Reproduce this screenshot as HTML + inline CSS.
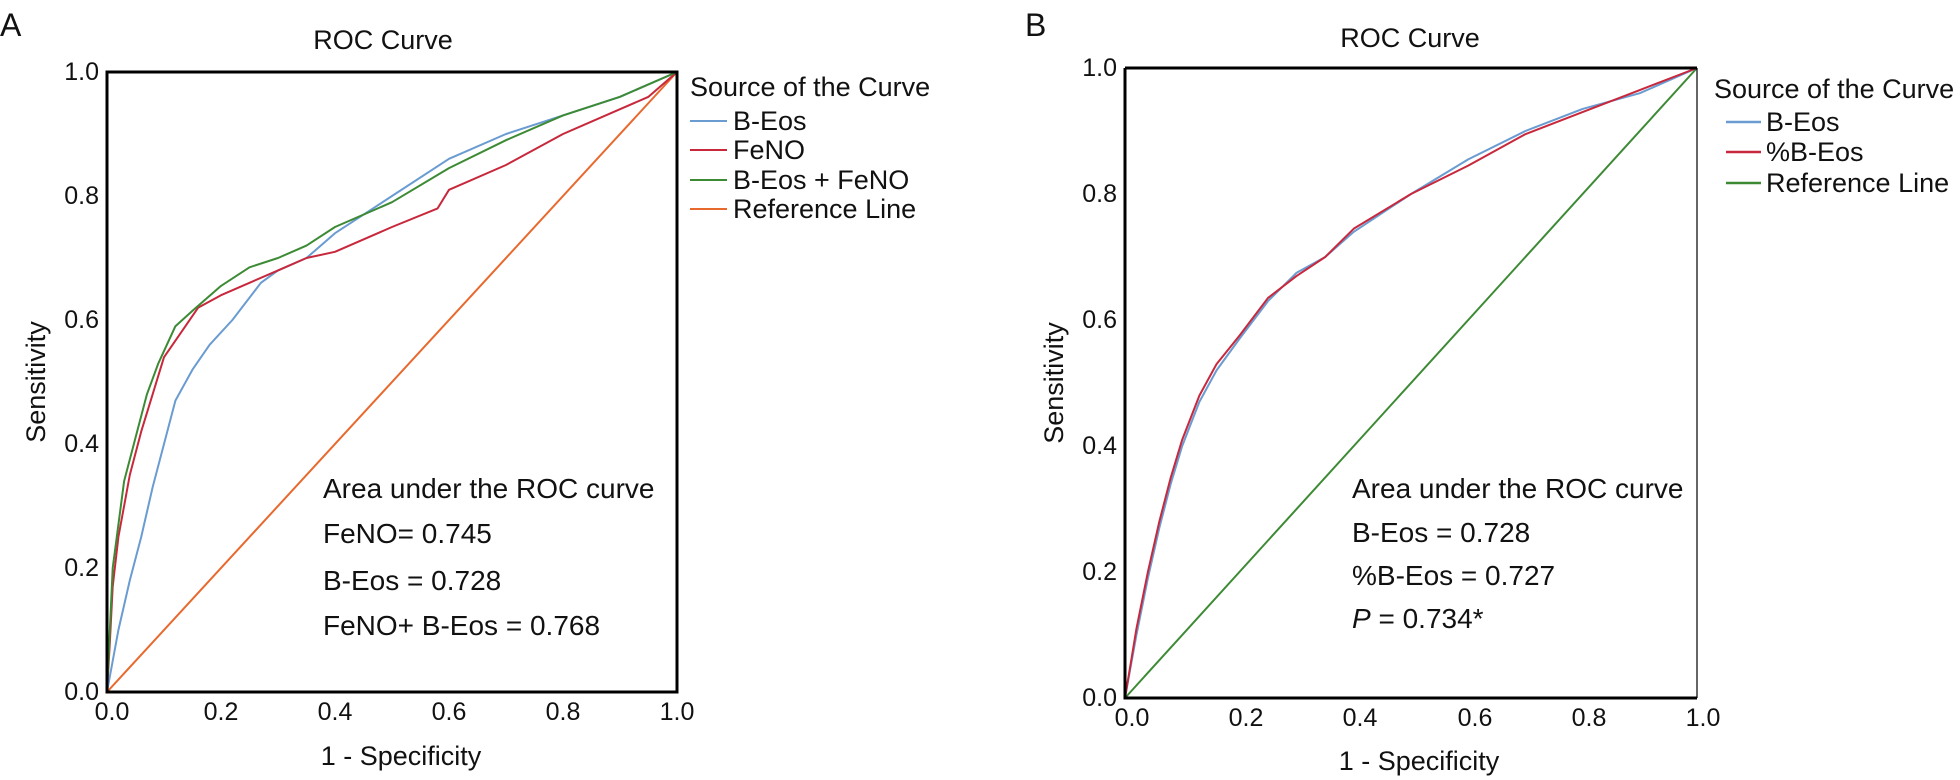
<!DOCTYPE html>
<html><head><meta charset="utf-8"><style>
body{margin:0;background:#fff;}
svg{display:block;font-family:"Liberation Sans",Arial,sans-serif;}
.c{fill:none;stroke-width:2;vector-effect:non-scaling-stroke;stroke-linejoin:round}
text{fill:#111}
</style></head><body>
<svg width="1960" height="780" viewBox="0 0 1960 780">
<!-- Panel A -->
<text x="0" y="36" font-size="32">A</text>
<text x="383" y="49" font-size="27" text-anchor="middle">ROC Curve</text>
<g transform="translate(107,692) scale(570,-620)">
<polyline class="c" stroke="#e8692e" points="0,0 1,1"/>
<polyline class="c" stroke="#6a9bd1" points="0,0 0.01,0.05 0.02,0.1 0.04,0.18 0.06,0.25 0.08,0.33 0.1,0.4 0.12,0.47 0.15,0.52 0.18,0.56 0.22,0.6 0.27,0.66 0.3,0.68 0.35,0.7 0.4,0.74 0.5,0.8 0.6,0.86 0.7,0.9 0.8,0.93 0.9,0.96 1,1"/>
<polyline class="c" stroke="#c8283c" points="0,0 0.005,0.08 0.01,0.17 0.02,0.25 0.04,0.35 0.06,0.42 0.08,0.48 0.1,0.54 0.13,0.58 0.16,0.62 0.2,0.64 0.25,0.66 0.3,0.68 0.35,0.7 0.4,0.71 0.5,0.75 0.58,0.78 0.6,0.81 0.7,0.85 0.8,0.9 0.9,0.94 0.95,0.96 1,1"/>
<polyline class="c" stroke="#3d8a35" points="0,0 0.005,0.1 0.01,0.2 0.02,0.27 0.03,0.34 0.05,0.41 0.07,0.48 0.09,0.53 0.12,0.59 0.15,0.615 0.2,0.655 0.25,0.685 0.3,0.7 0.35,0.72 0.4,0.75 0.5,0.79 0.6,0.845 0.7,0.89 0.8,0.93 0.9,0.96 1,1"/>
</g>
<rect x="107" y="72" width="570" height="620" fill="none" stroke="#000" stroke-width="3"/>
<g font-size="25" text-anchor="end">
<text x="99" y="80">1.0</text><text x="99" y="204">0.8</text><text x="99" y="328">0.6</text><text x="99" y="452">0.4</text><text x="99" y="576">0.2</text><text x="99" y="700">0.0</text>
</g>
<g font-size="25" text-anchor="middle">
<text x="112" y="720">0.0</text><text x="221" y="720">0.2</text><text x="335" y="720">0.4</text><text x="449" y="720">0.6</text><text x="563" y="720">0.8</text><text x="677" y="720">1.0</text>
</g>
<g font-size="27" text-anchor="middle">
<text x="401" y="765">1 - Specificity</text>
<text transform="translate(45,382) rotate(-90)">Sensitivity</text>
</g>
<g font-size="27">
<text x="690" y="96">Source of the Curve</text>
<line x1="690" y1="121" x2="727" y2="121" stroke="#6a9bd1" stroke-width="2"/><text x="733" y="130">B-Eos</text>
<line x1="690" y1="150" x2="727" y2="150" stroke="#c8283c" stroke-width="2"/><text x="733" y="159">FeNO</text>
<line x1="690" y1="180" x2="727" y2="180" stroke="#3d8a35" stroke-width="2"/><text x="733" y="189">B-Eos + FeNO</text>
<line x1="690" y1="209" x2="727" y2="209" stroke="#e8692e" stroke-width="2"/><text x="733" y="218">Reference Line</text>
</g>
<g font-size="28">
<text x="323" y="498">Area under the ROC curve</text>
<text x="323" y="543">FeNO= 0.745</text>
<text x="323" y="590">B-Eos = 0.728</text>
<text x="323" y="635">FeNO+ B-Eos = 0.768</text>
</g>

<!-- Panel B -->
<text x="1025" y="36" font-size="32">B</text>
<text x="1410" y="47" font-size="27" text-anchor="middle">ROC Curve</text>
<g transform="translate(1125,698) scale(572,-630)">
<polyline class="c" stroke="#3d8a35" points="0,0 1,1"/>
<polyline class="c" stroke="#6a9bd1" points="0,0 0.02,0.1 0.04,0.19 0.06,0.27 0.08,0.34 0.1,0.4 0.13,0.47 0.16,0.52 0.2,0.57 0.25,0.63 0.3,0.675 0.35,0.7 0.4,0.74 0.5,0.8 0.6,0.855 0.7,0.9 0.8,0.935 0.9,0.96 1,1"/>
<polyline class="c" stroke="#c8283c" points="0,0 0.02,0.11 0.04,0.2 0.06,0.28 0.08,0.35 0.1,0.41 0.13,0.48 0.16,0.53 0.2,0.575 0.25,0.635 0.3,0.67 0.35,0.7 0.4,0.745 0.5,0.8 0.6,0.845 0.7,0.895 0.8,0.93 0.9,0.965 1,1"/>
</g>
<path d="M1125,68 H1697 M1125,68 V698 H1697" fill="none" stroke="#000" stroke-width="3"/>
<line x1="1697" y1="68" x2="1697" y2="698" stroke="#000" stroke-width="1.2"/>
<g font-size="25" text-anchor="end">
<text x="1117" y="76">1.0</text><text x="1117" y="202">0.8</text><text x="1117" y="328">0.6</text><text x="1117" y="454">0.4</text><text x="1117" y="580">0.2</text><text x="1117" y="706">0.0</text>
</g>
<g font-size="25" text-anchor="middle">
<text x="1132" y="726">0.0</text><text x="1246" y="726">0.2</text><text x="1360" y="726">0.4</text><text x="1475" y="726">0.6</text><text x="1589" y="726">0.8</text><text x="1703" y="726">1.0</text>
</g>
<g font-size="27" text-anchor="middle">
<text x="1419" y="770">1 - Specificity</text>
<text transform="translate(1063,383) rotate(-90)">Sensitivity</text>
</g>
<g font-size="27">
<text x="1714" y="98">Source of the Curve</text>
<line x1="1726" y1="122" x2="1761" y2="122" stroke="#6a9bd1" stroke-width="2.5"/><text x="1766" y="131">B-Eos</text>
<line x1="1726" y1="152" x2="1761" y2="152" stroke="#c8283c" stroke-width="2.5"/><text x="1766" y="161">%B-Eos</text>
<line x1="1726" y1="183" x2="1761" y2="183" stroke="#3d8a35" stroke-width="2.5"/><text x="1766" y="192">Reference Line</text>
</g>
<g font-size="28">
<text x="1352" y="498">Area under the ROC curve</text>
<text x="1352" y="542">B-Eos = 0.728</text>
<text x="1352" y="585">%B-Eos = 0.727</text>
<text x="1352" y="628"><tspan font-style="italic">P</tspan> = 0.734*</text>
</g>
</svg>
</body></html>
